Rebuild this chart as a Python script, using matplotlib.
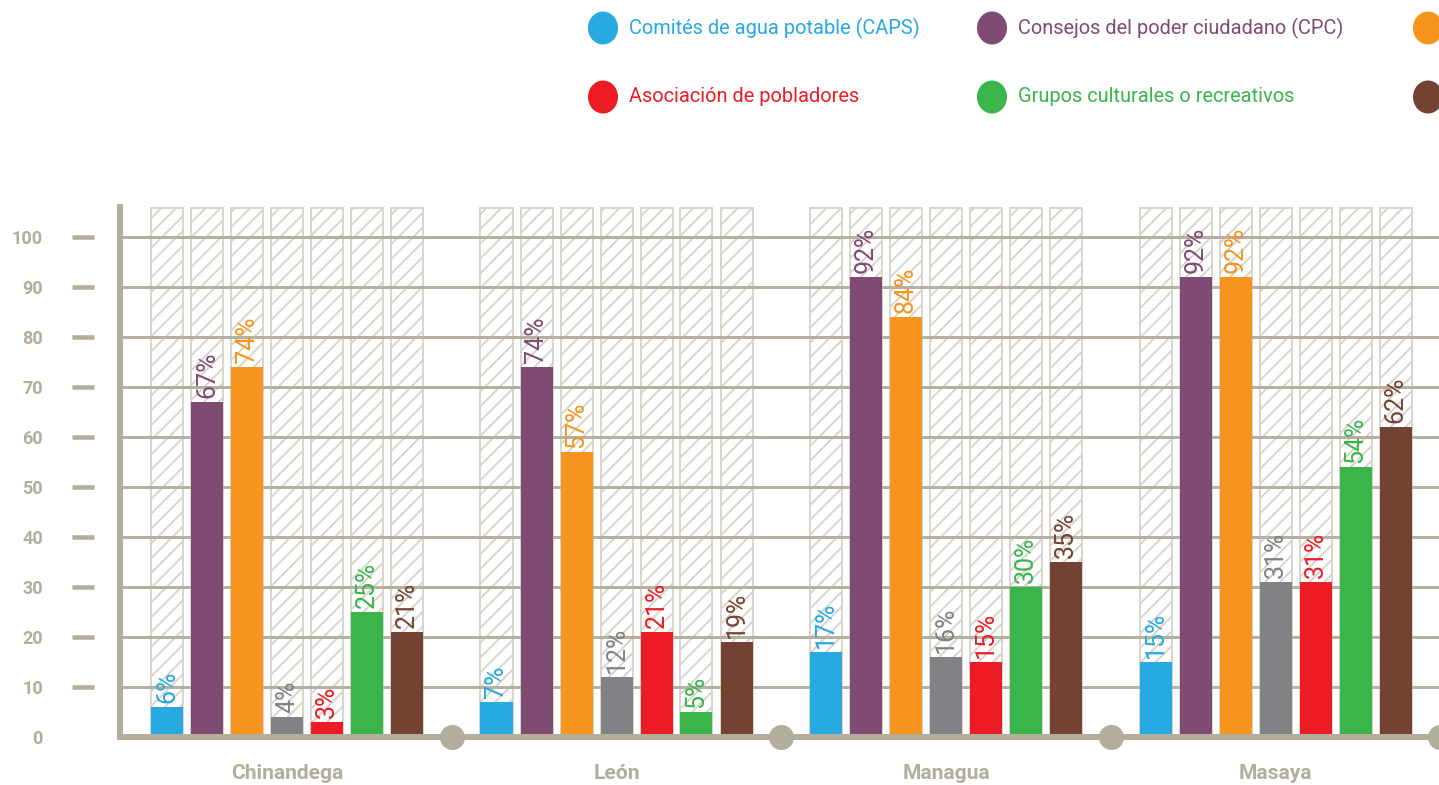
import numpy as np
import matplotlib.pyplot as plt
from matplotlib.patches import Ellipse

DPI = 133
W, H = 1439, 785

def pt(px):
    # pixel size -> points at this dpi
    return px * 72 / DPI

municipios = ["Chinandega", "León", "Managua", "Masaya"]
organizaciones = [
    "Comités de agua potable (CAPS)",
    "Consejos del poder ciudadano (CPC)",
    "Grupos religiosos",
    "Cooperativas",
    "Asociación de pobladores",
    "Grupos culturales o recreativos",
    "Organizaciones de mujeres",
]
colores = ["#27a9e1", "#7f4b73", "#f7941d", "#808285", "#ed1c24", "#39b54a", "#744233"]

chinandega = [6, 67, 74, 4, 3, 25, 21]
leon = [7, 74, 57, 12, 21, 5, 19]
managua = [17, 92, 84, 16, 15, 30, 35]
masaya = [15, 92, 92, 31, 31, 54, 62]
valores = [chinandega, leon, managua, masaya]

yticks = [0, 10, 20, 30, 40, 50, 60, 70, 80, 90, 100]

GRIS = "#b3ad9c"
REJILLA = "#b5b09f"
TRAMA = "#d6d3ca"

plt.rcParams['font.family'] = ['Roboto', 'DejaVu Sans']
plt.rcParams['hatch.linewidth'] = 1.0

fig = plt.figure(figsize=(W / DPI, H / DPI), dpi=DPI)

# main axes: left spine at 120px, baseline at 48px from the bottom, 5px per unit
STEP = 329.5
XMIN = -(287 - 120) / STEP
XMAX = XMIN + (W - 120) / STEP
YTOP = 106
ax = fig.add_axes([120 / W, 48 / H, (W - 120) / W, 530 / H])
ax.set_xlim(XMIN, XMAX)
ax.set_ylim(0, YTOP)

def xd(px):
    return XMIN + (px - 120) / STEP

ancho = 32 / STEP
paso = 40 / STEP
n = len(organizaciones)

for g, vals in enumerate(valores):
    for i, v in enumerate(vals):
        x = g + (i - (n - 1) / 2) * paso
        # hatched background column
        ax.bar(x, 105.8, ancho, fill=False, hatch='///', edgecolor=TRAMA,
               linewidth=1.0, zorder=1, clip_on=False)
        ax.bar(x, v, ancho, color=colores[i], zorder=3)
        ax.text(x, v + 0.8, f"{v}%", rotation=90, ha='center', va='bottom',
                color=colores[i], fontsize=pt(25), zorder=4)

for t in yticks[1:]:
    ax.axhline(t, color=REJILLA, lw=pt(3), zorder=2)
    ax.plot([xd(72), xd(94)], [t, t], color=GRIS, lw=pt(4.5),
            solid_capstyle='butt', clip_on=False)

# separators on the baseline
ax.scatter(np.arange(len(municipios)) + 0.5, np.zeros(len(municipios)),
           s=pt(25) ** 2, color=GRIS, zorder=5, clip_on=False, linewidths=0)

for s in ['top', 'right']:
    ax.spines[s].set_visible(False)
for s in ['left', 'bottom']:
    ax.spines[s].set_color(GRIS)
    ax.spines[s].set_linewidth(pt(6))
    ax.spines[s].set_zorder(6)

ax.set_yticks(yticks)
ax.set_yticklabels([str(t) for t in yticks])
ax.tick_params(axis='y', length=0, pad=pt(77), labelsize=pt(18), labelcolor=GRIS)
for lbl in ax.get_yticklabels():
    lbl.set_fontweight('bold')

ax.set_xticks(range(len(municipios)))
ax.set_xticklabels(municipios)
ax.tick_params(axis='x', length=0, pad=pt(27), labelsize=pt(21), labelcolor=GRIS)
for lbl in ax.get_xticklabels():
    lbl.set_fontweight('bold')

# legend across the top
lax = fig.add_axes([0, 0, 1, 1])
lax.set_xlim(0, W)
lax.set_ylim(H, 0)
lax.axis('off')
col_x = [603, 992, 1428, 1864]
fila_y = [28, 97]
for i, (nombre, c) in enumerate(zip(organizaciones, colores)):
    cx = col_x[i % 4]
    cy = fila_y[i // 4]
    if cx - 15 >= W:
        continue
    lax.add_patch(Ellipse((cx, cy), 30, 33, color=c, lw=0))
    if cx + 26 + 200 < W:
        lax.text(cx + 26, cy, nombre, color=c, fontsize=pt(20), va='center', ha='left')

fig.savefig("out.png", dpi=DPI)
